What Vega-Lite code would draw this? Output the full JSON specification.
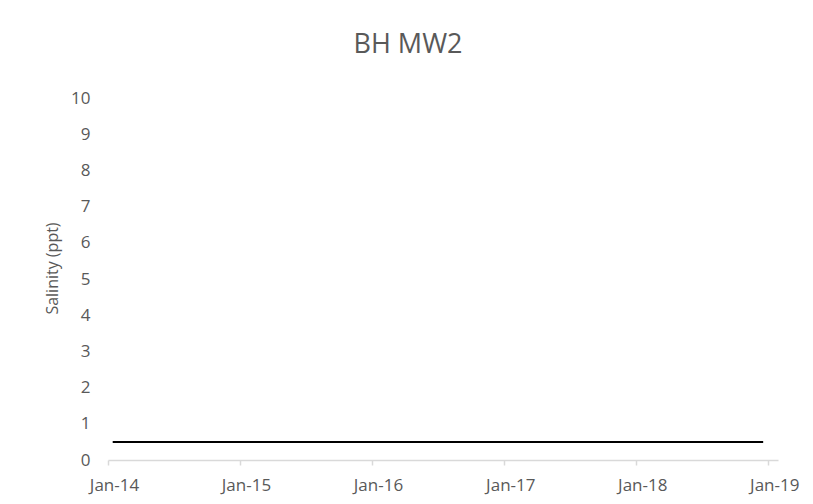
{
  "$schema": "https://vega.github.io/schema/vega-lite/v6.json",
  "width": 670,
  "height": 362,
  "autosize": "none",
  "padding": {"left": 108, "top": 98, "right": 35, "bottom": 44},
  "background": "white",
  "title": {
    "text": "BH MW2",
    "font": "Open Sans",
    "fontSize": 27,
    "fontWeight": "normal",
    "color": "#595959",
    "anchor": "middle",
    "frame": "group",
    "dx": -35,
    "baseline": "alphabetic",
    "offset": 9
  },
  "data": {
    "values": [
      {"date": "2014-01-14", "salinity": 0.5},
      {"date": "2018-12-18", "salinity": 0.5}
    ]
  },
  "mark": {"type": "line", "color": "#000000", "strokeWidth": 2},
  "encoding": {
    "x": {
      "field": "date",
      "type": "temporal",
      "scale": {"domain": [{"year": 2014, "month": 1, "date": 1}, {"year": 2019, "month": 1, "date": 28}]},
      "axis": {
        "title": null,
        "format": "%b-%y",
        "values": [
          {"year": 2014, "month": 1, "date": 1},
          {"year": 2015, "month": 1, "date": 1},
          {"year": 2016, "month": 1, "date": 1},
          {"year": 2017, "month": 1, "date": 1},
          {"year": 2018, "month": 1, "date": 1},
          {"year": 2019, "month": 1, "date": 1}
        ],
        "grid": false,
        "domainColor": "#d9d9d9",
        "domainWidth": 1.5,
        "tickColor": "#d9d9d9",
        "tickWidth": 1.5,
        "tickSize": 5,
        "labelPadding": 12,
        "labelOffset": 6,
        "labelFont": "Open Sans",
        "labelFontSize": 17,
        "labelColor": "#595959",
        "labelFlush": false,
        "labelOverlap": false
      }
    },
    "y": {
      "field": "salinity",
      "type": "quantitative",
      "scale": {"domain": [0, 10], "nice": false},
      "axis": {
        "title": "Salinity (ppt)",
        "values": [0, 1, 2, 3, 4, 5, 6, 7, 8, 9, 10],
        "grid": false,
        "domain": false,
        "ticks": false,
        "labelPadding": 18,
        "labelFont": "Open Sans",
        "labelFontSize": 17,
        "labelColor": "#595959",
        "titleFont": "Open Sans",
        "titleFontSize": 16,
        "titleFontWeight": "normal",
        "titleColor": "#595959",
        "titleAngle": -90,
        "titleAlign": "center",
        "titleBaseline": "middle",
        "titleX": -56,
        "titleY": 170
      }
    }
  },
  "config": {"view": {"stroke": null}}
}
